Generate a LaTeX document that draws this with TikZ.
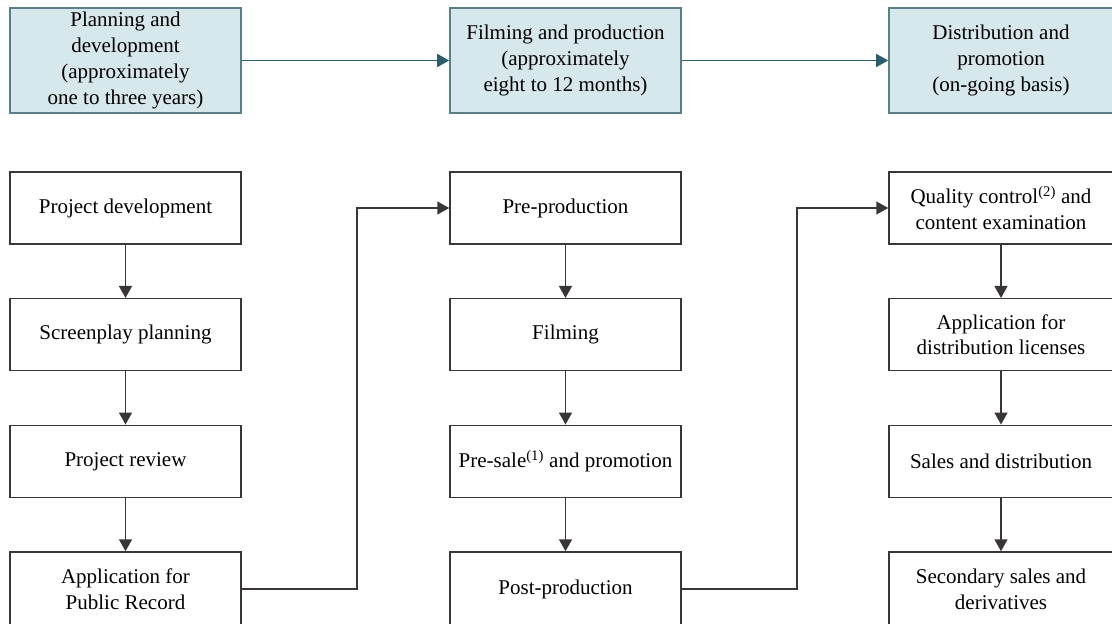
\documentclass[tikz,border=0pt]{standalone}
\usepackage{fontspec}
\setmainfont{Liberation Serif}
\usetikzlibrary{arrows.meta}
\definecolor{topfill}{HTML}{D7E8EC}
\definecolor{topdraw}{HTML}{5B7F88}
\definecolor{toparrow}{HTML}{2B5D6B}
\definecolor{boxdraw}{HTML}{3A3536}
\begin{document}
\begin{tikzpicture}[x=1pt,y=-1pt,
  txt/.style={font=\fontsize{21}{25.8}\selectfont, align=center, inner sep=0pt},
  phase/.style={txt, draw=topdraw, line width=1.6pt, fill=topfill, minimum width=231pt, minimum height=105pt},
  stepbox/.style={txt, draw=boxdraw, line width=1.5pt, minimum width=231pt, minimum height=72pt},
  parr/.style={-{Triangle[length=12pt,width=13pt]}, draw=toparrow, line width=1.5pt},
  sarr/.style={-{Triangle[length=12pt,width=13pt]}, draw=boxdraw, line width=1.5pt}]
\useasboundingbox (0,0) rectangle (1112,624);
\clip (0,0) rectangle (1112,624);
% phases
\node[phase] (p1) at (125.5,60.5) {Planning and\\development\\(approximately\\one to three years)};
\node[phase] (p2) at (565.5,60.5) {Filming and production\\(approximately\\eight to 12 months)};
\node[phase, minimum width=224pt] (p3) at (1001,60.5) {Distribution and\\promotion\\(on-going basis)};
\draw[parr] (p1.east) -- (p2.west);
\draw[parr] (p2.east) -- (p3.west);
% left column
\node[stepbox] (a1) at (125.5,208) {Project development};
\node[stepbox] (a2) at (125.5,334.7) {Screenplay planning};
\node[stepbox] (a3) at (125.5,461.3) {Project review};
\node[stepbox, minimum height=74pt] (a4) at (125.5,589) {Application for\\Public Record};
% middle column
\node[stepbox] (b1) at (565.5,208) {Pre-production};
\node[stepbox] (b2) at (565.5,334.7) {Filming};
\node[stepbox] (b3) at (565.5,461.3) {Pre-sale\textsuperscript{(1)} and promotion};
\node[stepbox, minimum height=74pt] (b4) at (565.5,589) {Post-production};
% right column
\node[stepbox, minimum width=224pt] (c1) at (1001,208) {Quality control\textsuperscript{(2)} and\\content examination};
\node[stepbox, minimum width=224pt] (c2) at (1001,334.7) {Application for\\distribution licenses};
\node[stepbox, minimum width=224pt] (c3) at (1001,461.3) {Sales and distribution};
\node[stepbox, minimum width=224pt, minimum height=74pt] (c4) at (1001,589) {Secondary sales and\\derivatives};
% arrows
\draw[sarr] (a1) -- (a2);
\draw[sarr] (a2) -- (a3);
\draw[sarr] (a3) -- (a4);
\draw[sarr] (b1) -- (b2);
\draw[sarr] (b2) -- (b3);
\draw[sarr] (b3) -- (b4);
\draw[sarr] (c1) -- (c2);
\draw[sarr] (c2) -- (c3);
\draw[sarr] (c3) -- (c4);
\draw[sarr] (a4.east) -- ++(115,0) |- (b1.west);
\draw[sarr] (b4.east) -- ++(115,0) |- (c1.west);
\end{tikzpicture}
\end{document}
